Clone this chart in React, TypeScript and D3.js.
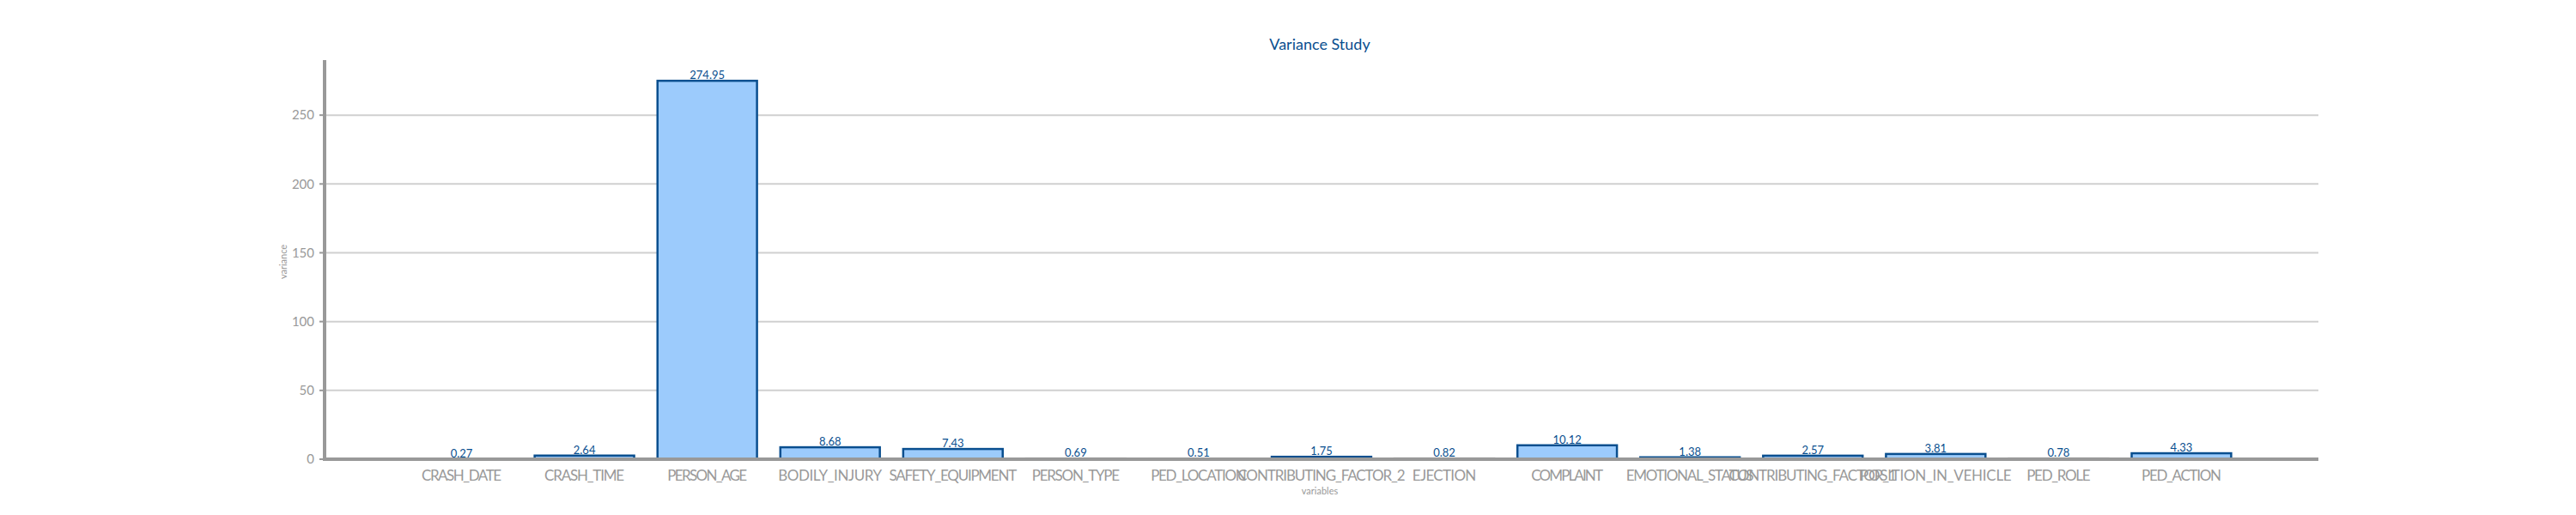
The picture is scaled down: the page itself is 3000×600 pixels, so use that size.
import React, { useEffect, useRef } from "react";
import * as d3 from "d3";

const categories = [
  "CRASH_DATE", "CRASH_TIME", "PERSON_AGE", "BODILY_INJURY", "SAFETY_EQUIPMENT",
  "PERSON_TYPE", "PED_LOCATION", "CONTRIBUTING_FACTOR_2", "EJECTION", "COMPLAINT",
  "EMOTIONAL_STATUS", "CONTRIBUTING_FACTOR_1", "POSITION_IN_VEHICLE", "PED_ROLE", "PED_ACTION",
];
const variances = [0.27, 2.64, 274.95, 8.68, 7.43, 0.69, 0.51, 1.75, 0.82, 10.12, 1.38, 2.57, 3.81, 0.78, 4.33];
const yTicks = [0, 50, 100, 150, 200, 250];

export default function App() {
  const ref = useRef<SVGSVGElement>(null);

  useEffect(() => {
    const svg = d3.select(ref.current);
    svg.selectAll("*").remove();
    const font = "Lato, 'Noto Sans', sans-serif";

    const x = d3.scaleBand().domain(categories).range([466, 2612]).paddingInner(0.19).paddingOuter(0.095);
    const y = d3.scaleLinear().domain([0, 290]).range([535, 70]);

    svg.append("text").attr("x", 1537).attr("y", 58).attr("text-anchor", "middle")
      .attr("fill", "#0a4f8f").style("font", `18px ${font}`).text("Variance Study");

    // grid
    svg.append("g").selectAll("line").data(yTicks.slice(1)).join("line")
      .attr("x1", 378).attr("x2", 2700).attr("y1", (d) => y(d)).attr("y2", (d) => y(d))
      .attr("stroke", "#d0d0d0").attr("stroke-width", 2);

    svg.append("g").selectAll("text").data(yTicks).join("text")
      .attr("x", 366).attr("y", (d) => y(d)).attr("dy", "0.35em").attr("text-anchor", "end")
      .attr("fill", "#999").style("font", `15px ${font}`).text((d) => d);
    svg.append("g").selectAll("line").data(yTicks).join("line")
      .attr("x1", 372).attr("x2", 378).attr("y1", (d) => y(d)).attr("y2", (d) => y(d))
      .attr("stroke", "#999").attr("stroke-width", 2);

    svg.append("g").selectAll("rect").data(variances).join("rect")
      .attr("x", (_, i) => x(categories[i])!).attr("width", x.bandwidth())
      .attr("y", (d) => y(d)).attr("height", (d) => y(0) - y(d))
      .attr("fill", "#9ccbfc").attr("stroke", (d) => (d < 1 ? "#e6e6e6" : "#0a4f8f")).attr("stroke-width", 2.5);

    svg.append("g").selectAll("text").data(variances).join("text")
      .attr("x", (_, i) => x(categories[i])! + x.bandwidth() / 2).attr("y", (d) => y(d) - 2)
      .attr("text-anchor", "middle").attr("fill", "#0a4f8f").style("font", `13px ${font}`)
      .text((d) => d.toFixed(2));

    svg.append("line").attr("x1", 378).attr("x2", 378).attr("y1", 70).attr("y2", 537)
      .attr("stroke", "#999").attr("stroke-width", 4);
    svg.append("line").attr("x1", 376).attr("x2", 2700).attr("y1", 535).attr("y2", 535)
      .attr("stroke", "#999").attr("stroke-width", 4);

    svg.append("g").selectAll("text").data(categories).join("text")
      .attr("x", (d) => x(d)! + x.bandwidth() / 2).attr("y", 560).attr("text-anchor", "middle")
      .attr("fill", "#999").style("font", `17px ${font}`).attr("textLength", (d) => d.length * 9.3)
      .text((d) => d);

    svg.append("text").attr("x", 1537).attr("y", 576).attr("text-anchor", "middle")
      .attr("fill", "#999").style("font", `11px ${font}`).text("variables");
    svg.append("text").attr("transform", "translate(334,305) rotate(-90)").attr("text-anchor", "middle")
      .attr("fill", "#999").style("font", `11px ${font}`).text("variance");
  }, []);

  return <svg ref={ref} width={3000} height={600} style={{ position: "absolute", left: 0, top: 0 }} />;
}
